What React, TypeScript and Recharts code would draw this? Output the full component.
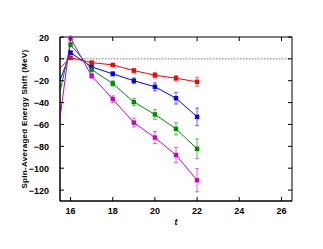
import React from 'react';
import { LineChart, Line, XAxis, YAxis, ErrorBar, ReferenceLine, ReferenceArea, Label } from 'recharts';

const tValues = [15, 16, 17, 18, 19, 20, 21, 22];
const redValues = [-18, 1, -3.4, -5.5, -10.7, -14.9, -17.7, -21];
const redErrors = [null, 1, 1, 1.2, 1.8, 2.3, 2.4, 4];
const blueValues = [-45, 5.7, -7.3, -13.7, -20, -25.5, -36, -53];
const blueErrors = [null, 1.5, 1.5, 2, 2.6, 3.6, 5.3, 8];
const greenValues = [-73, 13, -9.8, -22.5, -39.5, -50.8, -64, -82.3];
const greenErrors = [null, 2, 2, 2.4, 3.3, 4.5, 5.6, 9];
const magentaValues = [-127, 19, -15.5, -36.8, -58.3, -72, -88, -111];
const magentaErrors = [null, 2, 2.3, 3, 4, 5.5, 7, 10.6];

const xTicks = [16, 18, 20, 22, 24, 26];
const yTicks = [20, 0, -20, -40, -60, -80, -100, -120];

const data = tValues.map((t, i) => ({
  t,
  red: redValues[i],
  redErr: redErrors[i],
  blue: blueValues[i],
  blueErr: blueErrors[i],
  green: greenValues[i],
  greenErr: greenErrors[i],
  magenta: magentaValues[i],
  magentaErr: magentaErrors[i],
}));

const W = 323;
const H = 249;
const M = { top: 37, right: 31, bottom: 0, left: 0 };
const YW = 60;
const XH = 48;
const PLOT_W = W - M.left - M.right - YW;
const PLOT_H = H - M.top - M.bottom - XH;
const FONT = '"Liberation Sans", Arial, sans-serif';

const fmt = (v: number) => String(v).replace('-', '\u2212');

const XTick = (props: any) => {
  const { x, y, payload } = props;
  return (
    <g>
      <line x1={x} y1={y} x2={x} y2={y - 4} stroke="#000" strokeWidth={1} />
      <line x1={x} y1={y - PLOT_H} x2={x} y2={y - PLOT_H + 4} stroke="#000" strokeWidth={1} />
      <text x={x} y={y + 13} textAnchor="middle" fontFamily={FONT} fontWeight="bold" fontSize={9} fill="#000">
        {fmt(payload.value)}
      </text>
    </g>
  );
};

const YTick = (props: any) => {
  const { x, y, payload } = props;
  return (
    <g>
      <line x1={x} y1={y} x2={x + 4} y2={y} stroke="#000" strokeWidth={1} />
      <line x1={x + PLOT_W} y1={y} x2={x + PLOT_W - 4} y2={y} stroke="#000" strokeWidth={1} />
      <text x={x - 11} y={y + 3.5} textAnchor="end" fontFamily={FONT} fontWeight="bold" fontSize={9} fill="#000">
        {fmt(payload.value)}
      </text>
    </g>
  );
};

const makeDot = (color: string) => (props: any) => {
  const { cx, cy, index } = props;
  if (cx == null || cy == null) return <g key={index} />;
  return <rect key={index} x={cx - 2.2} y={cy - 2.2} width={4.4} height={4.4} fill={color} />;
};

const series = [
  { key: 'red', err: 'redErr', color: '#ff0000' },
  { key: 'blue', err: 'blueErr', color: '#0000ff' },
  { key: 'green', err: 'greenErr', color: '#008a00' },
  { key: 'magenta', err: 'magentaErr', color: '#c800c8' },
];

export default function App() {
  return (
    <div style={{ position: 'absolute', left: 0, top: 0, width: W, height: H, background: '#fff' }}>
      <LineChart width={W} height={H} data={data} margin={M}>
        <XAxis
          dataKey="t"
          type="number"
          domain={[15.5, 26.5]}
          allowDataOverflow
          ticks={xTicks}
          height={XH}
          tickSize={0}
          tickMargin={0}
          tickLine={false}
          axisLine={{ stroke: '#000' }}
          tick={<XTick />}
          interval={0}
        >
          <Label
            content={(p: any) => {
              const vb = p.viewBox;
              return (
                <text x={vb.x + vb.width / 2} y={vb.y + 24} textAnchor="middle" fontFamily={FONT} fontStyle="italic" fontWeight="bold" fontSize={9} fill="#000">
                  t
                </text>
              );
            }}
          />
        </XAxis>
        <YAxis
          type="number"
          domain={[-130, 20]}
          allowDataOverflow
          ticks={yTicks}
          width={YW}
          tickSize={0}
          tickMargin={0}
          tickLine={false}
          axisLine={{ stroke: '#000' }}
          tick={<YTick />}
          interval={0}
        >
          <Label
            content={(p: any) => {
              const vb = p.viewBox;
              const cx = 24;
              const cy = vb.y + vb.height / 2;
              return (
                <text x={cx} y={cy} transform={`rotate(-90 ${cx} ${cy})`} textAnchor="middle" dominantBaseline="central" fontFamily={FONT} fontWeight="bold" fontSize={8} letterSpacing={0.3} fill="#000">
                  Spin-Averaged Energy Shift (MeV)
                </text>
              );
            }}
          />
        </YAxis>
        <ReferenceArea x1={15.5} x2={26.5} y1={-130} y2={20} fill="none" stroke="#000" strokeWidth={1} />
        <ReferenceLine y={0} stroke="#777" strokeDasharray="1.5 1.5" strokeWidth={1} />
        {series.map((s) => (
          <Line
            key={s.key}
            dataKey={s.key}
            stroke={s.color}
            strokeWidth={1}
            dot={makeDot(s.color)}
            activeDot={false}
            isAnimationActive={false}
          >
            <ErrorBar dataKey={s.err} direction="y" width={2} stroke={s.color} strokeOpacity={0.5} strokeWidth={1.2} />
          </Line>
        ))}
      </LineChart>
    </div>
  );
}
